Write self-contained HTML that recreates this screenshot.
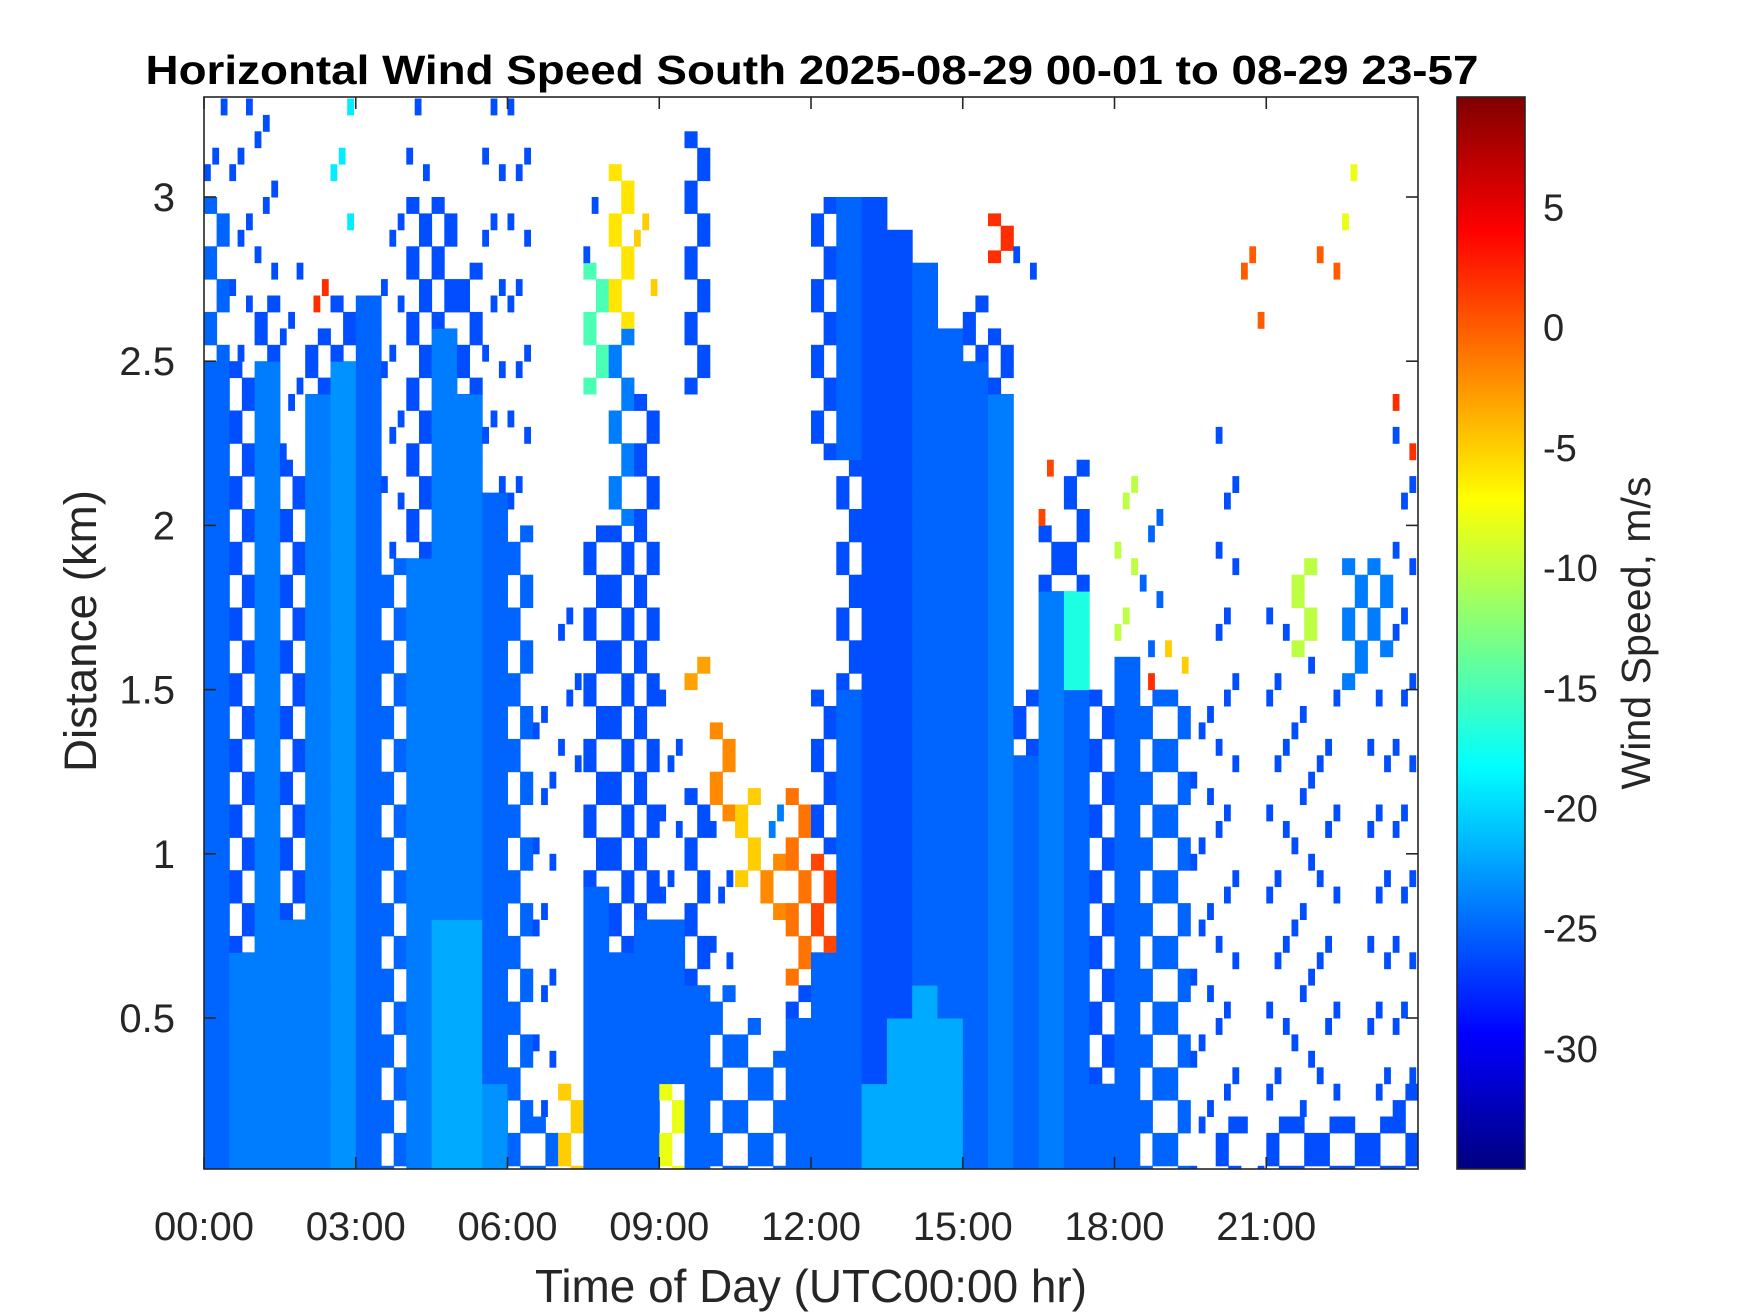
<!DOCTYPE html>
<html><head><meta charset="utf-8"><style>
html,body{margin:0;padding:0;background:#fff;}
svg{display:block;font-family:"Liberation Sans",Arial,sans-serif;}
</style></head><body>
<svg id="chart" width="1750" height="1313" viewBox="0 0 1750 1313" xmlns="http://www.w3.org/2000/svg">
<defs>
<clipPath id="plotclip"><rect x="204" y="97" width="1214" height="1072"/></clipPath>
<linearGradient id="jet" x1="0" y1="1" x2="0" y2="0"></linearGradient>
</defs>
<rect x="0" y="0" width="1750" height="1313" fill="#fff"/>
<text x="812" y="84" text-anchor="middle" font-size="41" font-weight="bold" textLength="1333" lengthAdjust="spacingAndGlyphs">Horizontal Wind Speed South 2025-08-29 00-01 to 08-29 23-57</text>
<g id="cells" clip-path="url(#plotclip)"></g>
<rect x="204" y="97" width="1214" height="1072" fill="none" stroke="#262626" stroke-width="1.6"/>
<g id="axes"></g>
<rect id="cbar" x="1457" y="97" width="68" height="1072" fill="url(#jet)" stroke="#262626" stroke-width="1.6"/>
<text x="811" y="1302" text-anchor="middle" font-size="46" fill="#262626" textLength="552" lengthAdjust="spacingAndGlyphs">Time of Day (UTC00:00 hr)</text>
<text transform="translate(96,631) rotate(-90)" text-anchor="middle" font-size="45" fill="#262626" textLength="282" lengthAdjust="spacingAndGlyphs">Distance (km)</text>
<text transform="translate(1650,633) rotate(-90)" text-anchor="middle" font-size="41" fill="#262626" textLength="313" lengthAdjust="spacingAndGlyphs">Wind Speed, m/s</text>
</svg>
<script>
// ---- data ----
const timeBins = [0,0.5,1,1.5,2,2.5,3,3.5,4,4.5,5,5.5,6,6.5,7,7.5,8,8.5,9,9.5,10,10.5,11,11.5,12,12.5,13,13.5,14,14.5,15,15.5,16,16.5,17,17.5,18,18.5,19,19.5,20,20.5,21,21.5,22,22.5,23,23.5];
// per time bin: "lowKm-highKm:speed[:density]"  s = speckled, t = sparse
const columnSegments = [
 ["0-2.5:-25","2.5-3.0:-25:s","3.0-3.3:-26:t"],
 ["0-0.7:-24","0.7-2.5:-26:s","2.5-3.3:-26:t"],
 ["0-2.5:-24","2.5-2.7:-26:s","2.7-3.3:-26:t"],
 ["0-0.8:-24","0.8-2.2:-26:s","2.2-2.8:-26:t"],
 ["0-2.4:-24","2.4-2.6:-26:s","2.6-2.8:2:t"],
 ["0-2.5:-23","2.5-2.7:-26:s","2.9-3.3:-19:t"],
 ["0-2.7:-25"],
 ["0-1.9:-25:s","1.9-3.0:-26:t"],
 ["0-1.9:-24","1.9-3.0:-26:s","3.0-3.3:-26:t"],
 ["0-0.8:-22","0.8-2.6:-24","2.6-3.0:-26:s"],
 ["0-0.8:-22","0.8-2.4:-24","2.4-2.8:-26:s"],
 ["0-0.3:-23","0.3-2.1:-25","2.1-3.3:-26:t"],
 ["0-2.0:-25:s","2.0-3.3:-26:t"],
 ["0-0.2:-25:s","0.2-1.5:-26:t"],
 ["0-0.3:-5:s","1.2-1.8:-26:t"],
 ["0-0.9:-25","0.9-2.0:-26:s","2.4-2.8:-15:s","2.8-3.0:-26:t"],
 ["0-0.7:-25","0.7-2.0:-26:s","2.0-2.6:-24:s","2.6-3.1:-6:s"],
 ["0-0.8:-25","0.8-2.4:-26:s","2.7-3.0:-5:t"],
 ["0-0.3:-8:s","0.3-0.8:-25","0.8-1.5:-26:t"],
 ["0-0.6:-25","0.6-1.2:-26:s","1.5-1.6:-3:s","2.4-3.2:-26:s"],
 ["0-0.6:-25:s","0.6-1.1:-26:t","1.1-1.4:-2:s"],
 ["0-0.5:-25:s","0.9-1.2:-5:s"],
 ["0-0.4:-25:s","0.8-1.0:-2:s","1.0-1.2:-24:t"],
 ["0-0.5:-25","0.5-0.6:-26:s","0.6-1.2:-1:s"],
 ["0-0.7:-25","0.7-1.0:1:s","1.0-1.5:-26:s","2.2-3.0:-26:s"],
 ["0-1.5:-25","1.5-2.2:-26:s","2.2-3.0:-25"],
 ["0-0.3:-22","0.3-3.0:-26"],
 ["0-0.5:-22","0.5-2.9:-26"],
 ["0-0.6:-22","0.6-2.8:-25"],
 ["0-0.5:-22","0.5-2.6:-25"],
 ["0-2.5:-25","2.5-2.7:-26:s"],
 ["0-2.4:-24","2.4-2.6:-26:s","2.8-2.95:2:s"],
 ["0-1.3:-25","1.3-1.5:-26:s","2.7-2.9:-26:t"],
 ["0-1.8:-24","1.8-2.0:-26:s","2.0-2.2:1:t"],
 ["0-1.5:-25","1.5-1.8:-17","1.8-2.2:-26:s"],
 ["0-0.3:-25","0.3-1.5:-26:s"],
 ["0-1.6:-25","1.6-2.2:-10:t"],
 ["0-1.5:-25:s","1.5-1.6:2:t","1.6-2.1:-25:t"],
 ["0-1.5:-25:s","1.5-1.7:-5:t"],
 ["0-1.5:-26:t"],
 ["0-0.2:-26:s","0.2-2.3:-26:t"],
 ["0-0.2:-26:t","2.6-2.9:0:t"],
 ["0-0.2:-26:s","0.2-1.8:-26:t"],
 ["0-0.2:-26:s","0.2-1.6:-26:t","1.6-1.9:-10:s"],
 ["0-0.2:-26:s","0.2-1.5:-26:t","2.7-2.9:0:t"],
 ["0-0.2:-26:s","1.5-1.9:-24:s","2.9-3.1:-8:t"],
 ["0-0.2:-26:s","0.2-1.5:-26:t","1.6-1.9:-24:s"],
 ["0-0.3:-26:s","0.3-2.3:-26:t","2.2-2.4:2:t"]
];
const xTicks = [0,3,6,9,12,15,18,21];
const xTickLabels = ["00:00","03:00","06:00","09:00","12:00","15:00","18:00","21:00"];
const yTicks = [0.5,1,1.5,2,2.5,3];
const yTickLabels = ["0.5","1","1.5","2","2.5","3"];
const cTicks = [-30,-25,-20,-15,-10,-5,0,5];
const cTickLabels = ["-30","-25","-20","-15","-10","-5","0","5"];
const binHours = 0.5, cellKm = 0.1;

// ---- scales ----
const PX0=204, PX1=1418, PY0=97, PY1=1169;
const xScale = h => PX0 + h/24*(PX1-PX0);
const yScale = km => 1018 - (km-0.5)*328.4;
const cMin=-35, cMax=9.6;
const cScale = v => 1169 - (v-cMin)/(cMax-cMin)*1072;
function jet(v){
  let t=(v-cMin)/(cMax-cMin); t=Math.max(0,Math.min(1,t));
  const c=x=>Math.round(255*Math.max(0,Math.min(1,x)));
  return `rgb(${c(1.5-Math.abs(4*t-3))},${c(1.5-Math.abs(4*t-2))},${c(1.5-Math.abs(4*t-1))})`;
}
const NS="http://www.w3.org/2000/svg";
function mk(tag,attrs,parent){const e=document.createElementNS(NS,tag);for(const k in attrs)e.setAttribute(k,attrs[k]);parent.appendChild(e);return e;}

// gradient
const grad=document.getElementById('jet');
for(let i=0;i<=40;i++){const v=cMin+(cMax-cMin)*i/40;mk('stop',{offset:(i/40),'stop-color':jet(v)},grad);}

// cells
const cellsG=document.getElementById('cells');
columnSegments.forEach((segs,ci)=>{
  const t0=timeBins[ci];
  const x0=xScale(t0), x1=xScale(t0+binHours), w=x1-x0;
  segs.forEach(s=>{
    const p=s.split(':'); const r=p[0].split('-').map(Number); const v=Number(p[1]); const dens=p[2]||'f';
    const n=Math.max(1,Math.round((r[1]-r[0])/cellKm));
    for(let k=0;k<n;k++){
      const lo=r[0]+(r[1]-r[0])*k/n, hi=r[0]+(r[1]-r[0])*(k+1)/n;
      const ya=yScale(hi), yb=yScale(lo), h=yb-ya;
      const col=jet(v);
      let quads;
      if(dens==='f') quads=[[0,0,1,1]];
      else if(dens==='s') quads=((k+ci)%2===0)?[[0,0,.5,.5],[.5,.5,.5,.5]]:[[.5,0,.5,.5],[0,.5,.5,.5]];
      else quads=[[((k+ci)%3)*.33,((k*3+ci)%2)*.5,.25,.5]];
      quads.forEach(q=>{
        const el=mk('rect',{x:(x0+q[0]*w).toFixed(1),y:(ya+q[1]*h).toFixed(1),width:(q[2]*w+0.5).toFixed(1),height:(q[3]*h+0.5).toFixed(1),fill:col},cellsG);
        
        
      });
    }
  });
});

// axes
const ax=document.getElementById('axes');
xTicks.forEach((t,i)=>{
  const x=xScale(t);
  mk('line',{x1:x,y1:PY1,x2:x,y2:PY1-12,stroke:'#262626','stroke-width':1.6},ax);
  mk('line',{x1:x,y1:PY0,x2:x,y2:PY0+12,stroke:'#262626','stroke-width':1.6},ax);
  const tx=mk('text',{x:x,y:1240,'text-anchor':'middle','font-size':40,fill:'#262626'},ax);
  tx.textContent=xTickLabels[i];
  
  
});
yTicks.forEach((k,i)=>{
  const y=yScale(k);
  mk('line',{x1:PX0,y1:y,x2:PX0+12,y2:y,stroke:'#262626','stroke-width':1.6},ax);
  mk('line',{x1:PX1,y1:y,x2:PX1-12,y2:y,stroke:'#262626','stroke-width':1.6},ax);
  const tx=mk('text',{x:175,y:y+14,'text-anchor':'end','font-size':40,fill:'#262626'},ax);
  tx.textContent=yTickLabels[i];
  
  
});
cTicks.forEach((v,i)=>{
  const y=cScale(v);
  mk('line',{x1:1525,y1:y,x2:1515,y2:y,stroke:'#262626','stroke-width':1.6},ax);
  const tx=mk('text',{x:1543,y:y+13,'text-anchor':'start','font-size':38,fill:'#262626'},ax);
  tx.textContent=cTickLabels[i];
  
  
});
</script>
</body></html>
